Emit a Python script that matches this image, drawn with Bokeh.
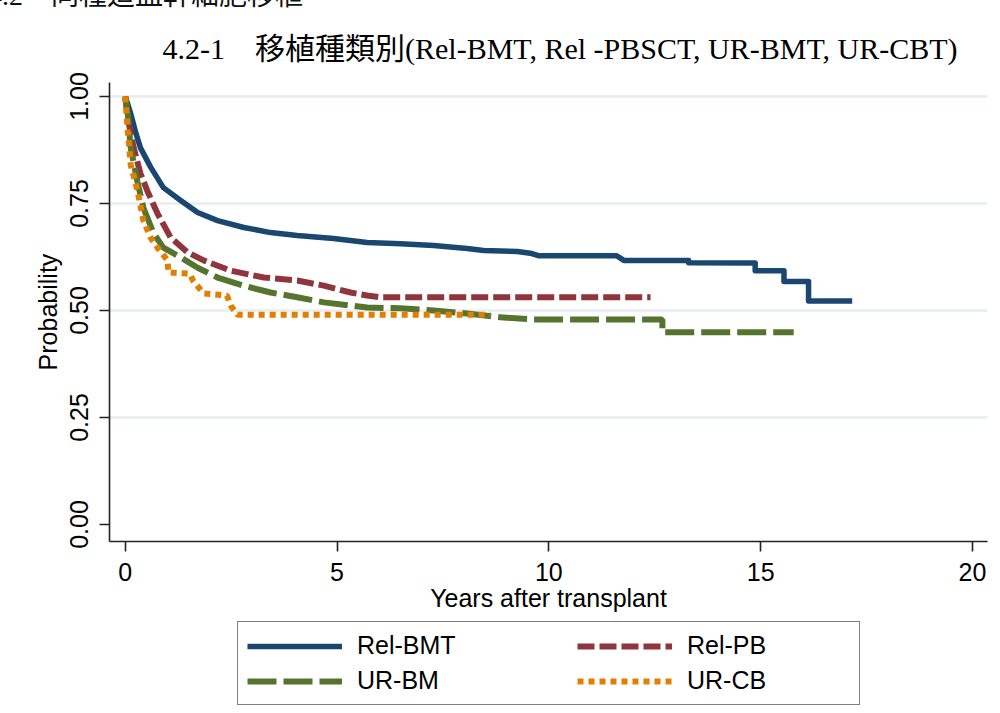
from bokeh.plotting import figure
from bokeh.layouts import column
from bokeh.models import (Range1d, FixedTicker, Legend, LegendItem, Title, Div)
from bokeh.embed import file_html
from bokeh.resources import INLINE

# ---- data ----
header_text = "4.2\u3000同種造血幹細胞移植"
title_text = "4.2-1\u3000移植種類別(Rel-BMT, Rel -PBSCT, UR-BMT, UR-CBT)"
x_ticks = [0, 5, 10, 15, 20]
y_ticks = [0.0, 0.25, 0.5, 0.75, 1.0]
y_tick_labels = ["0.00", "0.25", "0.50", "0.75", "1.00"]
series_names = ["Rel-BMT", "Rel-PB", "UR-BM", "UR-CB"]

rel_bmt_t = [0, 0.05, 0.13, 0.25, 0.36, 0.6, 0.9, 1.31, 1.71, 2.18, 2.8, 3.43, 4.06,
             4.92, 5.71, 6.5, 7.28, 8.07, 8.46, 9.26, 9.6, 9.75, 11.6, 11.77, 13.3,
             13.3, 14.87, 14.87, 15.55, 15.55, 16.13, 16.13, 17.16]
rel_bmt_s = [1.0, 0.985, 0.96, 0.915, 0.88, 0.835, 0.787, 0.757, 0.729, 0.71, 0.694,
             0.682, 0.675, 0.668, 0.659, 0.656, 0.652, 0.645, 0.64, 0.638, 0.633,
             0.628, 0.628, 0.617, 0.617, 0.6115, 0.611, 0.593, 0.593, 0.568, 0.568,
             0.522, 0.522]

rel_pb_t = [0, 0.06, 0.2, 0.36, 0.52, 0.76, 1.07, 1.47, 1.85, 2.49, 3.27, 4.06, 4.69,
            5.32, 5.71, 6.0, 12.4]
rel_pb_s = [1.0, 0.95, 0.88, 0.82, 0.78, 0.727, 0.671, 0.636, 0.617, 0.593, 0.577,
            0.57, 0.558, 0.542, 0.535, 0.531, 0.531]

ur_bm_t = [0, 0.06, 0.13, 0.29, 0.43, 0.67, 0.9, 1.31, 1.71, 2.18, 2.8, 3.43, 4.06,
           4.69, 5.71, 6.5, 7.28, 8.07, 8.86, 9.65, 12.68, 12.68, 15.78]
ur_bm_s = [1.0, 0.96, 0.88, 0.80, 0.74, 0.68, 0.647, 0.624, 0.60, 0.577, 0.558,
           0.542, 0.531, 0.519, 0.507, 0.505, 0.50, 0.493, 0.484, 0.479, 0.479,
           0.449, 0.449]

ur_cb_t = [0, 0.06, 0.13, 0.29, 0.43, 0.6, 0.76, 1.0, 1.02, 1.52, 1.6, 1.85, 2.4,
           2.5, 2.65, 8.62]
ur_cb_s = [1.0, 0.92, 0.84, 0.78, 0.71, 0.67, 0.647, 0.617, 0.589, 0.586, 0.57,
           0.54, 0.535, 0.51, 0.49, 0.49]

SANS = "Liberation Sans"
SERIF = "Liberation Serif, Noto Sans CJK JP"
styles = [
    dict(line_color="#1a476f", line_width=5.5, line_join="round"),
    dict(line_color="#90353b", line_width=6, line_dash="17 5"),
    dict(line_color="#55752f", line_width=6, line_dash="29 7"),
    dict(line_color="#e37e00", line_width=6, line_dash="6 5"),
]
curves = [(rel_bmt_t, rel_bmt_s), (rel_pb_t, rel_pb_s), (ur_bm_t, ur_bm_s),
          (ur_cb_t, ur_cb_s)]

# ---- header strip (page heading, cropped at the top as in the reference) ----
header = Div(
    text=("<div style=\"position:relative; left:-12px; top:-21px; white-space:nowrap;"
          " font-family:'Liberation Serif','Noto Sans CJK JP'; font-size:28px;"
          " line-height:34px; color:#111;\">" + header_text + "</div>"),
    width=1000, height=12, margin=0, styles={"overflow": "hidden"})

# ---- main plot ----
p = figure(width=1000, height=606, output_backend="svg", toolbar_location=None,
           x_range=Range1d(-0.371, 20.354), y_range=Range1d(-0.0397, 1.0327),
           min_border_left=109, min_border_right=13, min_border_top=70,
           min_border_bottom=77, background_fill_color="white",
           border_fill_color="white")
p.outline_line_color = None

p.add_layout(Title(text=title_text, text_font=SERIF, text_font_size="30px",
                   text_font_style="normal", text_color="black", align="left",
                   offset=53, standoff=34, vertical_align="middle"), "above")

p.xgrid.visible = False
p.ygrid.ticker = FixedTicker(ticks=[0.25, 0.5, 0.75, 1.0])
p.ygrid.grid_line_color = "#e6eef0"
p.ygrid.grid_line_width = 2.5

for ax in (p.xaxis[0], p.yaxis[0]):
    ax.axis_line_color = "#222222"
    ax.axis_line_width = 1.6
    ax.major_tick_line_color = "#222222"
    ax.major_tick_line_width = 1.6
    ax.major_tick_out = 10
    ax.major_tick_in = 0
    ax.minor_tick_line_color = None
    ax.major_label_text_font = SANS
    ax.major_label_text_font_size = "25px"
    ax.major_label_text_color = "black"
    ax.axis_label_text_font = SANS
    ax.axis_label_text_font_size = "25px"
    ax.axis_label_text_font_style = "normal"
    ax.axis_label_text_color = "black"

p.xaxis.ticker = FixedTicker(ticks=x_ticks)
p.xaxis.major_label_standoff = 11
p.xaxis.axis_label = "Years after transplant"
p.xaxis.axis_label_standoff = 0

p.yaxis.ticker = FixedTicker(ticks=y_ticks)
p.yaxis.major_label_overrides = {t: l for t, l in zip(y_ticks, y_tick_labels)}
p.yaxis.major_label_orientation = "vertical"
p.yaxis.major_label_standoff = 11
p.yaxis.axis_label = "Probability"
p.yaxis.axis_label_standoff = 6

for (t, s), st, name in zip(curves, styles, series_names):
    p.line(t, s, name=name, **st)

# ---- legend strip (its frame is aligned with the main plot's frame) ----
lf = figure(width=1000, height=95, output_backend="svg", toolbar_location=None,
            x_axis_type=None, y_axis_type=None, min_border=0,
            x_range=Range1d(-3, -2), y_range=Range1d(0, 1))
lf.outline_line_color = None
lf.grid.visible = False
lr = [lf.line(t, s, **st) for (t, s), st in zip(curves, styles)]

common = dict(glyph_width=95, glyph_height=26, label_height=26, label_standoff=15,
              padding=9, spacing=6, label_text_font=SANS,
              label_text_font_size="25px", label_text_color="black",
              background_fill_alpha=0.0)
legA = Legend(items=[LegendItem(label=series_names[0], renderers=[lr[0]]),
                     LegendItem(label=series_names[2], renderers=[lr[2]])],
              location=(128, 8), label_width=493,
              border_line_color="black", border_line_width=1.6, **common)
legB = Legend(items=[LegendItem(label=series_names[1], renderers=[lr[1]]),
                     LegendItem(label=series_names[3], renderers=[lr[3]])],
              location=(468, 18), border_line_color=None, **common)
lf.add_layout(legA, "center")
lf.add_layout(legB, "center")

layout = column(header, p, lf, spacing=0)
open("out.html", "w").write(file_html(layout, INLINE))
